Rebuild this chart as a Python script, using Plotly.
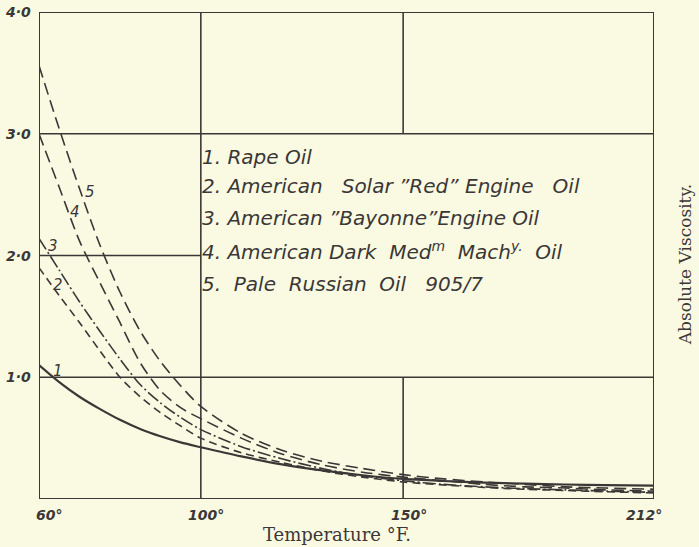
import plotly.graph_objects as go

# ---------------- data ----------------
temps = [60, 65, 70, 75, 80, 85, 90, 95, 100, 110, 120, 130, 140, 150, 160, 170, 180, 190, 200, 212]

rape_oil = [1.10, 0.96, 0.84, 0.74, 0.65, 0.575, 0.515, 0.465, 0.425, 0.35, 0.285, 0.235, 0.195, 0.165, 0.148, 0.135, 0.126, 0.119, 0.114, 0.11]
solar_red = [1.90, 1.67, 1.45, 1.22, 1.00, 0.84, 0.71, 0.60, 0.50, 0.38, 0.30, 0.23, 0.18, 0.14, 0.115, 0.095, 0.08, 0.07, 0.06, 0.05]
bayonne = [2.14, 1.88, 1.62, 1.38, 1.15, 0.94, 0.79, 0.67, 0.57, 0.43, 0.33, 0.25, 0.19, 0.15, 0.12, 0.10, 0.085, 0.075, 0.065, 0.055]
dark_med = [3.00, 2.56, 2.12, 1.78, 1.45, 1.12, 0.89, 0.75, 0.66, 0.50, 0.37, 0.28, 0.22, 0.18, 0.15, 0.12, 0.10, 0.09, 0.075, 0.065]
pale_russian = [3.56, 3.04, 2.55, 2.09, 1.70, 1.38, 1.13, 0.93, 0.76, 0.54, 0.40, 0.31, 0.25, 0.20, 0.165, 0.14, 0.12, 0.10, 0.09, 0.08]

series_values = [rape_oil, solar_red, bayonne, dark_med, pale_russian]
series_numbers = ["1", "2", "3", "4", "5"]
NB = "\u00a0"
legend_lines = [
    "1." + NB + "Rape" + NB + "Oil",
    "2. American" + NB * 3 + "Solar" + NB + "\u201dRed\u201d" + NB + "Engine" + NB * 3 + "Oil",
    "3. American" + NB + "\u201dBayonne\u201dEngine" + NB + "Oil",
    "4. American" + NB + "Dark" + NB * 2 + "Med<sup>m</sup>" + NB * 2 + "Mach<sup>y.</sup>" + NB * 2 + "Oil",
    "5." + NB * 2 + "Pale" + NB * 2 + "Russian" + NB * 2 + "Oil" + NB * 3 + "905/7",
]

x_ticks = [60, 100, 150, 212]
x_tick_labels = ["60\u00b0", "100\u00b0", "150\u00b0", "212\u00b0"]
y_ticks = [1, 2, 3, 4]
y_tick_labels = ["1\u00b70", "2\u00b70", "3\u00b70", "4\u00b70"]

x_title = "Temperature \u00b0F."
y_title = "Absolute Viscosity."

# ---------------- style ----------------
INK = "#3b3737"
PAPER = "#fafae2"
dashes = ["solid", "8px,5px", "13px,3px,2px,3px", "12px,6px", "12px,6px"]
widths = [2.2, 1.6, 1.6, 1.6, 1.6]
# where curve number labels sit (data coords)
label_pos = [(64.8, 1.05), (64.6, 1.76), (63.5, 2.08), (69.0, 2.36), (72.6, 2.52)]

fig = go.Figure()
for vals, dash, w in zip(series_values, dashes, widths):
    fig.add_trace(go.Scatter(
        x=temps, y=vals, mode="lines",
        line=dict(color=INK, width=w, dash=dash, shape="spline", smoothing=0.8),
        showlegend=False, hoverinfo="skip",
    ))

# grid / frame (legend panel area left clear, as in the original)
line_style = dict(color=INK, width=1.6)
shapes = [
    dict(type="rect", xref="x", yref="y", x0=60, x1=212, y0=0, y1=4, line=dict(color=INK, width=2)),
    dict(type="line", xref="x", yref="y", x0=60, x1=212, y0=3, y1=3, line=line_style),
    dict(type="line", xref="x", yref="y", x0=60, x1=212, y0=1, y1=1, line=line_style),
    dict(type="line", xref="x", yref="y", x0=60, x1=100, y0=2, y1=2, line=line_style),
    dict(type="line", xref="x", yref="y", x0=100, x1=100, y0=0, y1=4, line=line_style),
    dict(type="line", xref="x", yref="y", x0=150, x1=150, y0=3, y1=4, line=line_style),
    dict(type="line", xref="x", yref="y", x0=150, x1=150, y0=0, y1=1, line=line_style),
]
for s in shapes:
    s["layer"] = "below"

annotations = []
lab_font = dict(family="DejaVu Sans", size=14, color=INK, style="italic", weight="bold")
for v, t in zip(y_ticks, y_tick_labels):
    annotations.append(dict(x=0, xref="paper", y=v, yref="y", text=t, showarrow=False,
                            xanchor="right", xshift=-6, font=lab_font))
x_shifts = [10, 5, 6, -10]
for v, t, sh in zip(x_ticks, x_tick_labels, x_shifts):
    annotations.append(dict(x=v, xref="x", y=0, yref="y", text=t, showarrow=False,
                            yanchor="top", yshift=-6, xshift=sh, font=lab_font))

annotations.append(dict(x=0.5, xref="paper", y=0, yref="paper", text=x_title, showarrow=False,
                        yanchor="top", yshift=-23, xshift=-10,
                        font=dict(family="DejaVu Serif", size=18, color=INK)))
annotations.append(dict(x=1, xref="paper", y=0.48, yref="paper", text=y_title, showarrow=False,
                        textangle=-90, xanchor="center", xshift=31,
                        font=dict(family="DejaVu Serif", size=17, color=INK)))

leg_y = [2.81, 2.57, 2.31, 2.04, 1.77]
for yy, t in zip(leg_y, legend_lines):
    annotations.append(dict(x=100, xref="x", y=yy, yref="y", text=t, showarrow=False,
                            xanchor="left", xshift=-1,
                            font=dict(family="DejaVu Sans", size=20, color=INK, style="italic")))

for (lx, ly), n in zip(label_pos, series_numbers):
    annotations.append(dict(x=lx, xref="x", y=ly, yref="y", text=n, showarrow=False,
                            font=dict(family="DejaVu Sans", size=15, color=INK, style="italic")))

fig.update_layout(
    width=699, height=547,
    margin=dict(l=39, r=45, t=12, b=48),
    paper_bgcolor=PAPER, plot_bgcolor=PAPER,
    xaxis=dict(range=[60, 212], showgrid=False, zeroline=False, showticklabels=False, ticks=""),
    yaxis=dict(range=[0, 4], showgrid=False, zeroline=False, showticklabels=False, ticks=""),
    shapes=shapes, annotations=annotations,
)

fig.write_html(
    "out.html",
    config={"displayModeBar": False},
    post_script="document.body.style.margin='0';document.body.style.padding='0';"
                "document.body.style.overflow='hidden';document.body.style.background='#fafae2';",
)
